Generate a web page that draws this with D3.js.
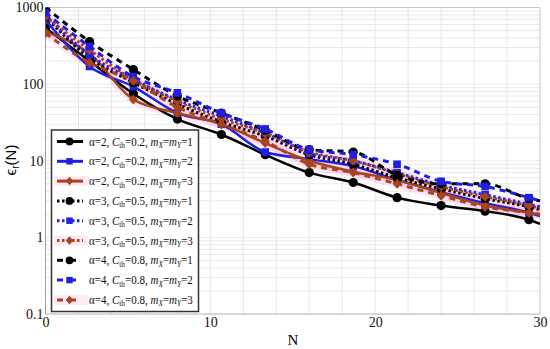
<!DOCTYPE html>
<html><head><meta charset="utf-8">
<script src="https://cdn.jsdelivr.net/npm/d3@7"></script>
<style>body{margin:0;background:#fff}</style>
</head><body>
<svg id="c" width="550" height="349"></svg>
<script>
// ---- data ----
const N = [0, 2.67, 5.33, 8, 10.67, 13.33, 16, 18.67, 21.33, 24, 26.67, 29.33, 30];
const s1 = [540, 200, 75, 35, 22, 12, 7.0, 5.2, 3.3, 2.6, 2.2, 1.7, 1.5];
const s2 = [690, 170, 93, 42, 30, 13, 10.5, 8.5, 5.6, 3.9, 2.8, 2.1, 1.9];
const s3 = [480, 250, 63, 42, 30, 17, 10, 7.2, 5.6, 3.8, 2.6, 2.1, 2.0];
const s4 = [760, 220, 105, 55, 32, 21, 12, 9, 6, 4.3, 3.2, 2.5, 2.3];
const s5 = [800, 240, 115, 62, 38, 23, 12.5, 10, 7, 4.8, 3.6, 2.7, 2.5];
const s6 = [760, 280, 114, 60, 35, 23, 13, 10, 6.8, 4.6, 3.4, 2.6, 2.4];
const s7 = [1000, 360, 155, 70, 42, 25, 14, 13, 6.5, 5.0, 5.0, 3.2, 3.0];
const s8 = [850, 310, 125, 77, 42, 26, 14, 12, 9, 5.4, 4.6, 3.3, 3.0];
const s9 = [460, 190, 110, 50, 30, 18, 9, 7, 5, 3.5, 2.5, 2.1, 2.0];
const alphas = [2, 2, 2, 3, 3, 3, 4, 4, 4];
const cths = ["0.2", "0.2", "0.2", "0.5", "0.5", "0.5", "0.8", "0.8", "0.8"];
const ms = [1, 2, 3, 1, 2, 3, 1, 2, 3];
const xTicks = [0, 10, 20, 30];
const yTicks = [0.1, 1, 10, 100, 1000];
const yTickLabels = ["0.1", "1", "10", "100", "1000"];

// ---- styles ----
const seriesVals = [s1, s2, s3, s4, s5, s6, s7, s8, s9];
const colors = ["#000000", "#1f1fe6", "#a8431b"];
const dashes = [null, "2.5,2.5", "6,5"];
const shapes = ["circle", "square", "diamond"];

const svg = d3.select("#c");
const L = 45.5, R = 540, T = 7.5, B = 314;
const x = d3.scaleLinear().domain([0, 30]).range([L, R]);
const y = d3.scaleLog().domain([0.1, 1000]).range([B, T]);

// grid
const grid = svg.append("g");
d3.range(2, 30, 2).forEach(v => grid.append("line")
  .attr("x1", x(v)).attr("x2", x(v)).attr("y1", T).attr("y2", B)
  .attr("stroke", "#e6e6e6").attr("stroke-width", 1));
[0.1, 1, 10, 100].forEach(d => {
  d3.range(1, 10).forEach(k => {
    if (d * k === 0.1) return;
    grid.append("line").attr("x1", L).attr("x2", R)
      .attr("y1", y(d * k)).attr("y2", y(d * k))
      .attr("stroke", "#e8e8e8").attr("stroke-width", 1);
  });
});
// frame
svg.append("line").attr("x1", L).attr("x2", R).attr("y1", T).attr("y2", T).attr("stroke", "#c8c8c8");
svg.append("line").attr("x1", R).attr("x2", R).attr("y1", T).attr("y2", B).attr("stroke", "#c8c8c8");
svg.append("line").attr("x1", L).attr("x2", R).attr("y1", B).attr("y2", B).attr("stroke", "#b0b0b0");
svg.append("line").attr("x1", L).attr("x2", L).attr("y1", T).attr("y2", B).attr("stroke", "#a0a0a0");

// axes labels
const yAxis = d3.axisLeft(y).tickValues(yTicks).tickFormat((d, i) => yTickLabels[i]).tickSize(0).tickPadding(2);
const ga = svg.append("g").attr("transform", `translate(${L},0)`).call(yAxis);
ga.select(".domain").remove();
ga.selectAll("text").attr("font-family", "Liberation Serif").attr("font-size", 14).attr("fill", "#111");
const xAxis = d3.axisBottom(x).tickValues(xTicks).tickFormat(d3.format("d")).tickSize(0).tickPadding(3);
const gx = svg.append("g").attr("transform", `translate(0,${B})`).call(xAxis);
gx.select(".domain").remove();
gx.selectAll("text").attr("font-family", "Liberation Serif").attr("font-size", 14).attr("fill", "#111");

svg.append("text").attr("x", 293).attr("y", 345).attr("text-anchor", "middle")
  .attr("font-family", "Liberation Serif").attr("font-size", 15).text("N");
const yl = svg.append("text").attr("transform", "translate(16,160) rotate(-90)").attr("text-anchor", "middle")
  .attr("font-family", "Liberation Sans").attr("font-size", 15);
yl.append("tspan").text("\u03F5");
yl.append("tspan").attr("font-size", 10).attr("dy", 3).text("r");
yl.append("tspan").attr("dy", -3).text("(N)");

// clip
svg.append("clipPath").attr("id", "pc").append("rect").attr("x", L).attr("y", T).attr("width", R - L).attr("height", B - T);
const plot = svg.append("g").attr("clip-path", "url(#pc)");

const line = d3.line().x((d, i) => x(N[i])).y(d => y(d)).curve(d3.curveMonotoneX);

function marker(g, shape, color, cx, cy, s) {
  if (shape === "circle") g.append("circle").attr("cx", cx).attr("cy", cy).attr("r", 4.6 * s).attr("fill", color);
  else if (shape === "square") g.append("rect").attr("x", cx - 3.8 * s).attr("y", cy - 3.8 * s).attr("width", 7.6 * s).attr("height", 7.6 * s).attr("fill", color);
  else g.append("path").attr("d", `M${cx},${cy - 5 * s}L${cx + 4.5 * s},${cy}L${cx},${cy + 5 * s}L${cx - 4.5 * s},${cy}Z`).attr("fill", color);
}

// pink glows under brown series
seriesVals.forEach((vals, i) => {
  if (i % 3 !== 2) return;
  plot.append("path").attr("d", line(vals)).attr("fill", "none")
    .attr("stroke", "#ff8fd8").attr("stroke-opacity", 0.22).attr("stroke-width", 9);
});
seriesVals.forEach((vals, i) => {
  const c = colors[i % 3], st = Math.floor(i / 3);
  const p = plot.append("path").attr("d", line(vals)).attr("fill", "none")
    .attr("stroke", c).attr("stroke-width", st === 0 ? 2.5 : 3);
  if (dashes[st]) p.attr("stroke-dasharray", dashes[st]);
  vals.forEach((v, j) => { if (j < vals.length - 1) marker(plot, shapes[i % 3], c, x(N[j]), y(v), 1); });
});

// legend
const lg = svg.append("g");
lg.append("rect").attr("x", 51.5).attr("y", 130).attr("width", 147).attr("height", 181.5)
  .attr("fill", "#fff").attr("stroke", "#333").attr("stroke-width", 1.5);
alphas.forEach((a, i) => {
  const yy = 141.5 + i * 19.8;
  const c = colors[i % 3], st = Math.floor(i / 3);
  if (i % 3 === 2) lg.append("rect").attr("x", 54).attr("y", yy - 5).attr("width", 34).attr("height", 10).attr("fill", "#ff8fd8").attr("opacity", 0.2);
  const l = lg.append("line").attr("x1", 57).attr("x2", 83).attr("y1", yy).attr("y2", yy)
    .attr("stroke", c).attr("stroke-width", 3);
  if (dashes[st]) l.attr("stroke-dasharray", st === 1 ? "2.5,2.5" : "6,7");
  marker(lg, shapes[i % 3], c, 69.5, yy, 0.85);
  const t = lg.append("text").attr("x", 0).attr("y", 0).attr("font-family", "Liberation Serif").attr("font-size", 12).attr("fill", "#111");
  t.append("tspan").text(`\u03B1=${a}, `);
  t.append("tspan").attr("font-style", "italic").text("C");
  t.append("tspan").attr("font-size", 8).attr("dy", 2.5).text("th");
  t.append("tspan").attr("dy", -2.5).text(`=${cths[i]}, `);
  t.append("tspan").attr("font-style", "italic").text("m");
  t.append("tspan").attr("font-style", "italic").attr("font-size", 8).attr("dy", 2.5).text("X");
  t.append("tspan").attr("dy", -2.5).text("=");
  t.append("tspan").attr("font-style", "italic").text("m");
  t.append("tspan").attr("font-style", "italic").attr("font-size", 8).attr("dy", 2.5).text("Y");
  t.append("tspan").attr("dy", -2.5).text(`=${ms[i]}`);
  const w = t.node().getBBox().width;
  const k = Math.min(1, 104 / w);
  t.attr("transform", `translate(89,${yy + 4}) scale(${k},1)`);
});
</script>
</body></html>
